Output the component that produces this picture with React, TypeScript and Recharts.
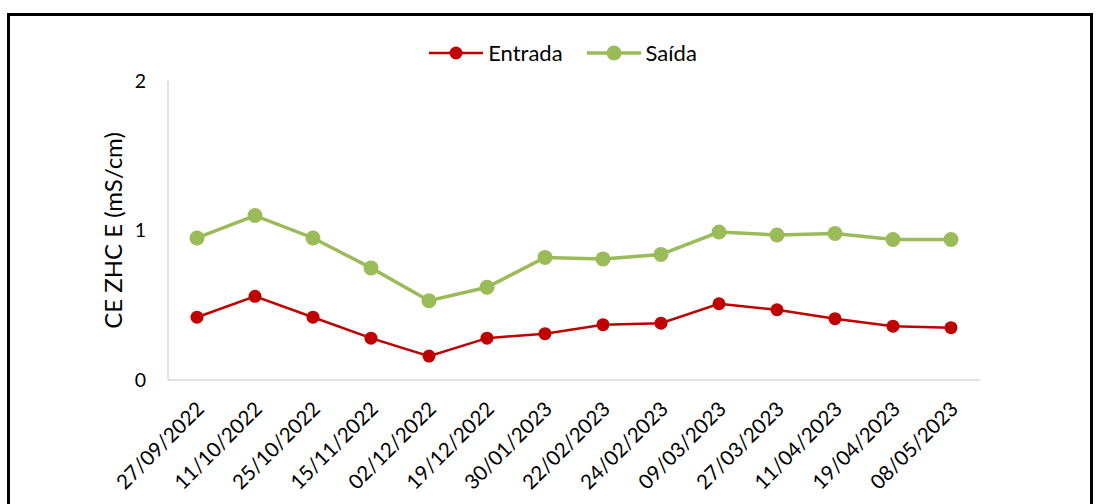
import { LineChart, Line, XAxis, YAxis, Legend } from "recharts";

const dates = [
  "27/09/2022", "11/10/2022", "25/10/2022", "15/11/2022", "02/12/2022",
  "19/12/2022", "30/01/2023", "22/02/2023", "24/02/2023", "09/03/2023",
  "27/03/2023", "11/04/2023", "19/04/2023", "08/05/2023",
];
const entrada = [0.42, 0.56, 0.42, 0.28, 0.16, 0.28, 0.31, 0.37, 0.38, 0.51, 0.47, 0.41, 0.36, 0.35];
const saida = [0.95, 1.1, 0.95, 0.75, 0.53, 0.62, 0.82, 0.81, 0.84, 0.99, 0.97, 0.98, 0.94, 0.94];
const yTicks = [0, 1, 2];

const data = dates.map((d, i) => ({ date: d, entrada: entrada[i], saida: saida[i] }));

const FONT = "Lato, 'Open Sans', sans-serif";
const RED = "#C00000";
const GREEN = "#9BBB59";

function LegendContent() {
  const items = [
    { label: "Entrada", color: RED, w: 2.5, r: 6.5 },
    { label: "Saída", color: GREEN, w: 3.5, r: 7.5 },
  ];
  return (
    <div style={{ display: "flex", justifyContent: "center", gap: 24, fontFamily: FONT, fontSize: 22, color: "#000", lineHeight: "22px" }}>
      {items.map((it) => (
        <span key={it.label} style={{ display: "flex", alignItems: "center", gap: 5 }}>
          <svg width={54} height={16}>
            <line x1={0} y1={8} x2={54} y2={8} stroke={it.color} strokeWidth={it.w} />
            <circle cx={27} cy={8} r={it.r} fill={it.color} />
          </svg>
          {it.label}
        </span>
      ))}
    </div>
  );
}

export default function App() {
  return (
    <div
      style={{
        position: "absolute",
        left: 7,
        top: 13,
        width: 1086,
        height: 500,
        border: "3px solid #000",
        boxSizing: "border-box",
        background: "#fff",
      }}
    >
      <LineChart
        width={1080}
        height={490}
        data={data}
        margin={{ top: 43, left: 98, right: 110, bottom: 96 }}
      >
        <Legend
          verticalAlign="top"
          height={22}
          content={<LegendContent />}
          wrapperStyle={{ top: 26, left: 13, width: 1080 }}
        />
        <XAxis
          dataKey="date"
          interval={0}
          padding={{ left: 29, right: 29 }}
          stroke="#D9D9D9"
          strokeWidth={1.5}
          tickLine={false}
          tickSize={0}
          tickMargin={20}
          angle={-45}
          textAnchor="end"
          tick={{ fill: "#000", fontSize: 20.5, fontFamily: FONT, dx: -2 }}
        />
        <YAxis
          width={60}
          domain={[0, 2]}
          ticks={yTicks}
          stroke="#D9D9D9"
          strokeWidth={1.5}
          tickLine={false}
          tickSize={0}
          tickMargin={22}
          tick={{ fill: "#000", fontSize: 19.5, fontFamily: FONT }}
          label={{
            value: "CE ZHC E (mS/cm)",
            angle: -90,
            position: "center",
            dx: -25,
            style: { fill: "#000", fontSize: 24, fontFamily: FONT },
          }}
        />
        <Line
          dataKey="entrada"
          stroke={RED}
          strokeWidth={2.5}
          dot={{ r: 6.5, fill: RED, stroke: RED, strokeWidth: 0 }}
          isAnimationActive={false}
        />
        <Line
          dataKey="saida"
          stroke={GREEN}
          strokeWidth={3.5}
          dot={{ r: 7.5, fill: GREEN, stroke: GREEN, strokeWidth: 0 }}
          isAnimationActive={false}
        />
      </LineChart>
    </div>
  );
}
